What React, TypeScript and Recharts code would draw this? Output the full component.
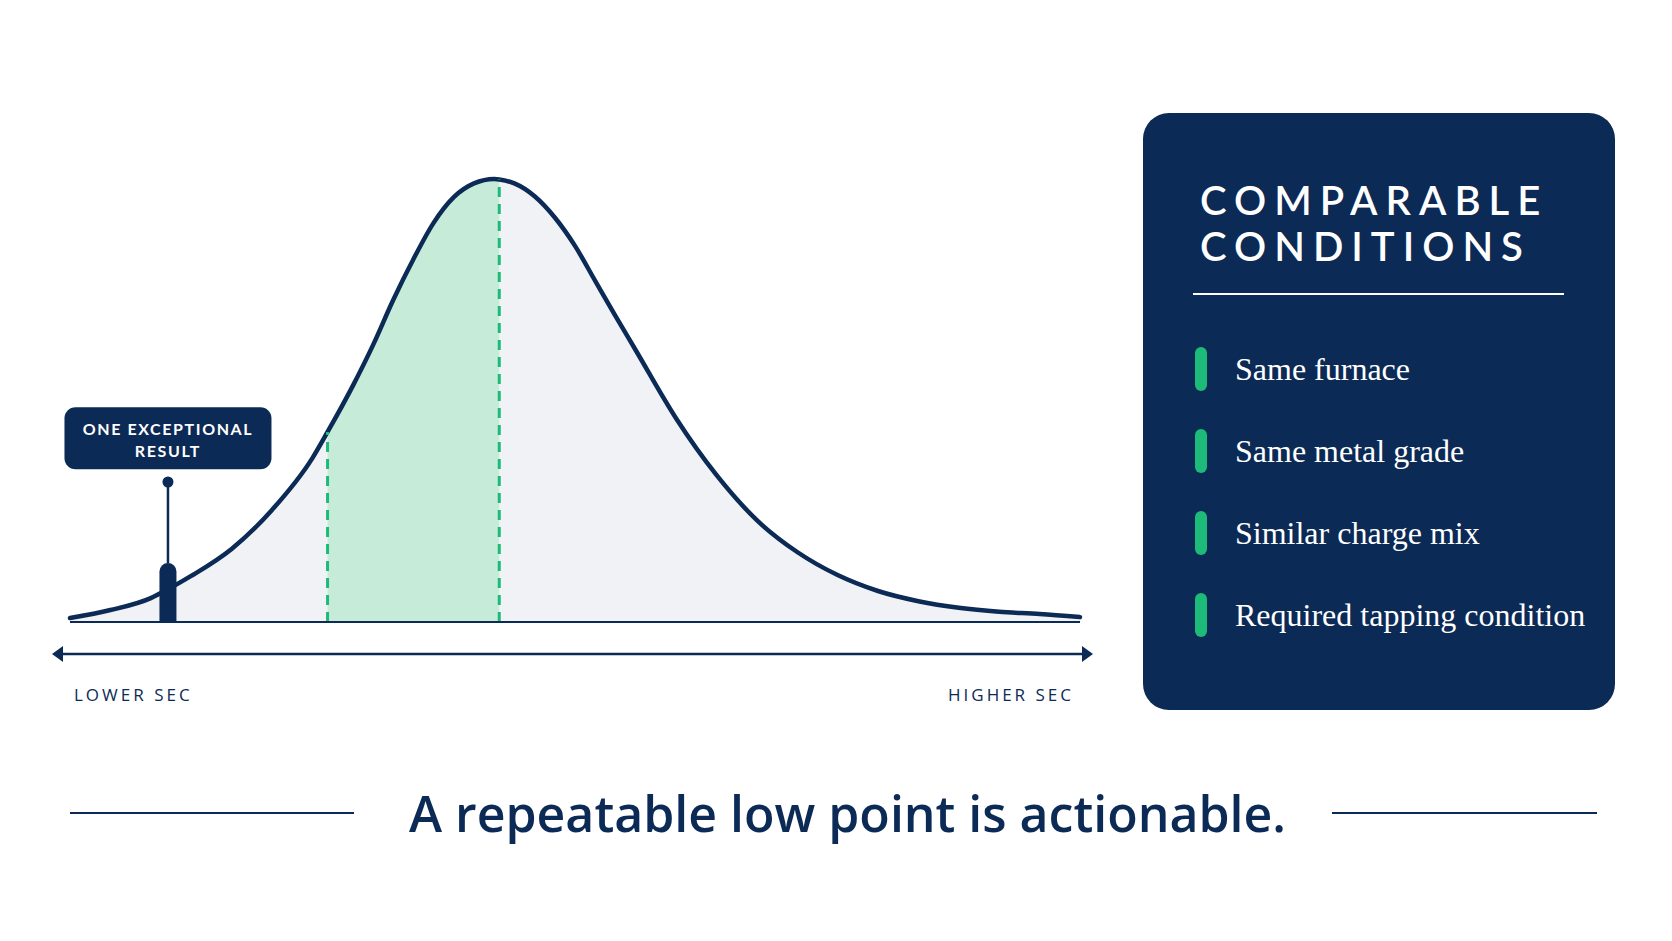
import React from "react";
import {
  ComposedChart,
  Area,
  Bar,
  XAxis,
  YAxis,
  ReferenceLine,
  ReferenceDot,
} from "recharts";

// SEC scale (arbitrary units, lower -> higher) and relative frequency
const secValues = [0, 4, 8, 9.7, 12, 16, 20, 24, 25.5, 28, 30, 32, 34, 36, 38, 40, 42, 42.5, 44, 46, 48, 50, 52, 54, 56, 60, 64, 68, 72, 76, 80, 84, 88, 92, 96, 100];
const density = [0.9, 2.7, 5.4, 7.4, 10.4, 16.5, 25.3, 37.0, 42.9, 53.3, 62.5, 72.7, 81.9, 90.1, 95.9, 99.0, 100, 99.9, 99.0, 96.1, 91.3, 84.9, 77.0, 69.1, 61.4, 46.0, 33.2, 23.0, 15.8, 10.6, 7.0, 4.7, 3.2, 2.3, 1.8, 1.1];

// repeatable band (green) and the single exceptional result
const bandStart = 25.5;
const bandEnd = 42.5;
const exceptionalSec = 9.7;
const exceptionalValue = 13.3;
const exceptionalStemTop = 31.6;
const exceptionalLabelY = 41.5;

const conditions = ["Same furnace", "Same metal grade", "Similar charge mix", "Required tapping condition"];

const NAVY = "#0b2a55";
const GREEN = "#1dba7a";

const data = secValues.map((sec, i) => ({
  sec,
  curve: density[i],
  band: sec >= bandStart && sec <= bandEnd ? density[i] : null,
  exceptional: sec === exceptionalSec ? exceptionalValue : null,
}));

const valueAt = (sec: number) => density[secValues.indexOf(sec)];

// fixed-width bar with a rounded top, centred on its data point
const ExceptionalBar = (props: any) => {
  const { x, y, width, height } = props;
  if (!height) return null;
  const w = 17;
  const r = 8.5;
  const left = x + width / 2 - w / 2;
  const bottom = y + height;
  const d = `M${left},${bottom} L${left},${y + r} A${r},${r} 0 0 1 ${left + w},${y + r} L${left + w},${bottom} Z`;
  return <path d={d} fill={NAVY} />;
};

const LabelBox = (props: any) => {
  const { cx, cy } = props;
  const w = 207;
  const h = 62;
  const textProps = {
    textAnchor: "middle" as const,
    fill: "#fff",
    fontFamily: "Lato, sans-serif",
    fontWeight: 700,
    fontSize: 16,
    letterSpacing: 1.6,
  };
  return (
    <g>
      <rect x={cx - w / 2} y={cy - h / 2} width={w} height={h} rx={11} fill={NAVY} />
      <text x={cx} y={cy - 3} {...textProps}>
        ONE EXCEPTIONAL
      </text>
      <text x={cx} y={cy + 19} {...textProps}>
        RESULT
      </text>
    </g>
  );
};

function DistributionChart() {
  return (
    <ComposedChart
      width={1100}
      height={700}
      data={data}
      margin={{ top: 179, right: 20, bottom: 78, left: 70 }}
    >
      <XAxis dataKey="sec" type="number" domain={[0, 100]} hide />
      <YAxis type="number" domain={[0, 100]} hide />
      <Area
        type="monotone"
        dataKey="curve"
        stroke="none"
        fill="#f1f2f6"
        fillOpacity={1}
        isAnimationActive={false}
      />
      <Area
        type="monotone"
        dataKey="band"
        stroke="none"
        fill="#c7ebd9"
        fillOpacity={1}
        connectNulls={false}
        isAnimationActive={false}
      />
      <ReferenceLine
        segment={[{ x: bandStart, y: 0 }, { x: bandStart, y: valueAt(bandStart) }]}
        stroke={GREEN}
        strokeWidth={3}
        strokeDasharray="10 7"
      />
      <ReferenceLine
        segment={[{ x: bandEnd, y: 0 }, { x: bandEnd, y: valueAt(bandEnd) }]}
        stroke={GREEN}
        strokeWidth={3}
        strokeDasharray="10 7"
      />
      <Area
        type="monotone"
        dataKey="curve"
        stroke={NAVY}
        strokeWidth={4.5}
        strokeLinecap="round"
        fill="none"
        isAnimationActive={false}
      />
      <ReferenceLine y={0} stroke={NAVY} strokeWidth={2} />
      <Bar
        dataKey="exceptional"
        fill={NAVY}
        shape={ExceptionalBar}
        isAnimationActive={false}
      />
      <ReferenceLine
        segment={[{ x: exceptionalSec, y: exceptionalValue }, { x: exceptionalSec, y: exceptionalStemTop }]}
        stroke={NAVY}
        strokeWidth={2.5}
      />
      <ReferenceDot x={exceptionalSec} y={exceptionalStemTop} r={5.5} fill={NAVY} stroke="none" />
      <ReferenceDot x={exceptionalSec} y={exceptionalLabelY} r={1} shape={LabelBox} />
    </ComposedChart>
  );
}

export default function App() {
  return (
    <div
      style={{
        position: "absolute",
        left: 0,
        top: 0,
        width: 1672,
        height: 941,
        background: "#fff",
        overflow: "hidden",
        fontFamily: "'Open Sans', sans-serif",
        color: NAVY,
      }}
    >
      <div style={{ position: "absolute", left: 0, top: 0 }}>
        <DistributionChart />
      </div>

      {/* double-headed SEC arrow */}
      <svg style={{ position: "absolute", left: 0, top: 0 }} width={1120} height={700}>
        <line x1={58} y1={654} x2={1087} y2={654} stroke={NAVY} strokeWidth={2.5} />
        <polygon points="52,654 63,646 63,662" fill={NAVY} />
        <polygon points="1093,654 1082,646 1082,662" fill={NAVY} />
      </svg>
      <div
        style={{
          position: "absolute",
          left: 74,
          top: 684,
          fontSize: 17,
          letterSpacing: 3,
          lineHeight: "22px",
        }}
      >
        LOWER SEC
      </div>
      <div
        style={{
          position: "absolute",
          right: 1672 - 1074,
          top: 684,
          fontSize: 17,
          letterSpacing: 3,
          lineHeight: "22px",
        }}
      >
        HIGHER SEC
      </div>

      {/* conditions panel */}
      <div
        style={{
          position: "absolute",
          left: 1143,
          top: 113,
          width: 472,
          height: 597,
          borderRadius: 26,
          background: NAVY,
          color: "#fff",
        }}
      >
        <div
          style={{
            position: "absolute",
            left: 57,
            top: 64,
            fontFamily: "Lato, sans-serif",
            fontWeight: 600,
            fontSize: 40,
            lineHeight: "46px",
            letterSpacing: 8,
          }}
        >
          COMPARABLE
          <br />
          CONDITIONS
        </div>
        <div
          style={{
            position: "absolute",
            left: 50,
            top: 180,
            width: 371,
            height: 2,
            background: "#fff",
          }}
        />
        {conditions.map((c, i) => (
          <div
            key={c}
            style={{
              position: "absolute",
              left: 52,
              top: 234 + i * 82,
              height: 44,
              display: "flex",
              alignItems: "center",
              whiteSpace: "nowrap",
            }}
          >
            <span
              style={{
                width: 12,
                height: 44,
                borderRadius: 6,
                background: GREEN,
                display: "inline-block",
              }}
            />
            <span
              style={{
                marginLeft: 28,
                fontFamily: "'Liberation Serif', serif",
                fontSize: 32,
                lineHeight: "44px",
              }}
            >
              {c}
            </span>
          </div>
        ))}
      </div>

      {/* takeaway */}
      <div style={{ position: "absolute", left: 70, top: 812, width: 284, height: 2, background: NAVY }} />
      <div style={{ position: "absolute", left: 1332, top: 812, width: 265, height: 2, background: NAVY }} />
      <div
        style={{
          position: "absolute",
          left: 409,
          top: 788,
          fontSize: 50,
          fontWeight: 600,
          lineHeight: 1,
          whiteSpace: "nowrap",
        }}
      >
        A repeatable low point is actionable.
      </div>
    </div>
  );
}
